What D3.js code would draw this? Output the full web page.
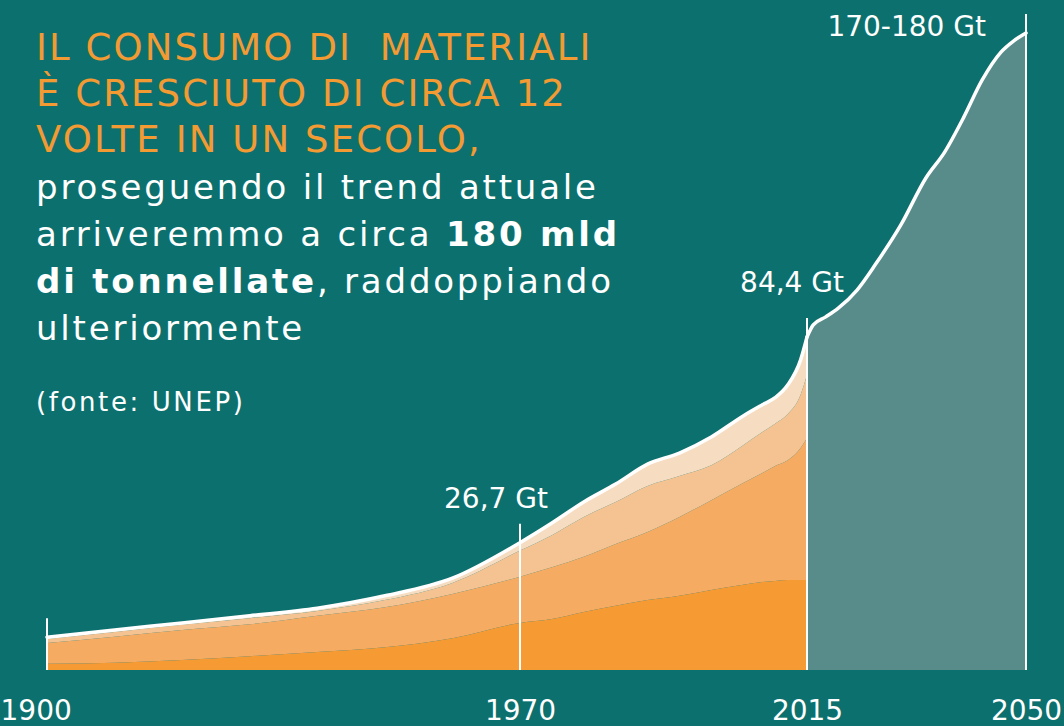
<!DOCTYPE html>
<html>
<head>
<meta charset="utf-8">
<script src="https://cdn.jsdelivr.net/npm/d3@7"></script>
<style>
  html, body { margin: 0; padding: 0; background: #0c716e; }
  svg { display: block; }
  text { font-family: "DejaVu Sans", sans-serif; white-space: pre; }
</style>
</head>
<body>
<div id="viz"></div>
<script>
const width = 1064;
const height = 726;

// historical extraction, Gt, stacked from the bottom (darkest) layer up
const years  = [1900, 1910, 1920, 1930, 1940, 1950, 1960, 1970, 1975, 1980, 1985, 1990, 1995, 2000, 2005, 2008, 2010, 2012, 2014, 2015];
const layer1 = [1.3, 1.5, 2.1, 2.9, 3.8, 4.8, 6.7, 9.9, 10.7, 12.2, 13.5, 14.7, 15.6, 16.8, 17.9, 18.5, 18.7, 18.9, 18.9, 18.9];
const layer2 = [4.4, 5.5, 6.3, 6.7, 7.6, 8.4, 9.3, 9.7, 10.9, 11.6, 13.0, 15.1, 18.4, 21.9, 25.6, 27.8, 29.6, 31.0, 34.4, 37.2];
const layer3 = [0.8, 1.0, 1.1, 1.3, 1.0, 1.5, 2.3, 5.5, 7.3, 10.2, 11.7, 12.9, 11.5, 9.8, 10.6, 11.5, 11.8, 12.9, 14.9, 17.7];
const layer4 = [0.4, 0.4, 0.4, 0.5, 0.6, 0.9, 1.0, 1.7, 3.4, 4.2, 5.0, 6.1, 6.4, 7.9, 8.2, 7.6, 7.3, 8.2, 9.8, 10.6];

// projection of the total, Gt
const projYears  = [2015, 2016, 2018, 2020, 2023, 2026, 2030, 2034, 2037, 2040, 2043, 2046, 2048, 2050];
const projValues = [84.4, 88.0, 90.4, 93.0, 98.4, 106.2, 117.8, 131.8, 139.5, 149.7, 161.0, 169.3, 172.6, 175.0];

const axisYears  = [1900, 1970, 2015, 2050];
const noteYears  = [1970, 2015, 2050];
const noteValues = [26.7, 84.4, 175];
const noteLabels = ['26,7 Gt', '84,4 Gt', '170-180 Gt'];

const layerColors = ['#f69b33', '#f5ab62', '#f5c391', '#f6dcc0'];

const svg = d3.select('#viz')
    .append('svg')
    .attr('width', width)
    .attr('height', height);

svg.append('rect')
    .attr('width', width)
    .attr('height', height)
    .attr('fill', '#0c716e');

// the infographic is not drawn to scale, so both scales are piecewise
const xScale = d3.scaleLinear()
    .domain(axisYears)
    .range([47, 520, 807, 1026]);
const yScale = d3.scaleLinear()
    .domain([0, 26.7, 84.4, 175])
    .range([670, 543, 337, 33]);

const rows = years.map((yr, i) => ({ year: yr, l1: layer1[i], l2: layer2[i], l3: layer3[i], l4: layer4[i] }));
const series = d3.stack().keys(['l1', 'l2', 'l3', 'l4'])(rows);
const totals = rows.map(r => ({ year: r.year, value: r.l1 + r.l2 + r.l3 + r.l4 }));
const proj = projYears.map((yr, i) => ({ year: yr, value: projValues[i] }));

// projection area
svg.append('path')
    .attr('fill', '#588c8a')
    .attr('d', d3.area()
        .x(d => xScale(d.year))
        .y0(yScale(0))
        .y1(d => yScale(d.value))
        .curve(d3.curveMonotoneX)(proj));

// stacked history
const stackArea = d3.area()
    .x(d => xScale(d.data.year))
    .y0(d => yScale(d[0]))
    .y1(d => yScale(d[1]))
    .curve(d3.curveMonotoneX);
svg.selectAll('path.layer')
    .data(series)
    .join('path')
    .attr('class', 'layer')
    .attr('fill', (d, i) => layerColors[i])
    .attr('d', stackArea);

// vertical markers
const allPoints = totals.concat(proj.slice(1));
const valueAt = yr => allPoints.find(p => p.year === yr).value;
svg.selectAll('line.mark')
    .data(axisYears)
    .join('line')
    .attr('class', 'mark')
    .attr('x1', d => xScale(d))
    .attr('x2', d => xScale(d))
    .attr('y1', yScale(0))
    .attr('y2', d => yScale(valueAt(d)) - 19)
    .attr('stroke', '#fff')
    .attr('stroke-width', 2);

// total line, drawn in two pieces so it keeps the bend at 2015
const totalLine = d3.line()
    .x(d => xScale(d.year))
    .y(d => yScale(d.value))
    .curve(d3.curveMonotoneX);
[totals, proj].forEach(part => {
    svg.append('path')
        .attr('fill', 'none')
        .attr('stroke', '#fff')
        .attr('stroke-width', 3.5)
        .attr('stroke-linecap', 'round')
        .attr('d', totalLine(part));
});

// x axis
const xAxis = d3.axisBottom(xScale)
    .tickValues(axisYears)
    .tickFormat(d3.format('d'))
    .tickSize(0)
    .tickPadding(30);
const gx = svg.append('g')
    .attr('transform', `translate(0, ${yScale(0)})`)
    .call(xAxis);
gx.select('.domain').remove();
gx.selectAll('text')
    .attr('fill', '#fff')
    .attr('font-size', 28)
    .attr('font-family', '"DejaVu Sans", sans-serif');
gx.selectAll('text').filter(d => d === 1900)
    .attr('text-anchor', 'start')
    .attr('x', -xScale(1900));

// value notes
const noteX = [d => xScale(d) - 24, d => xScale(d) + 37, d => xScale(d) - 40];
const noteAnchor = ['middle', 'end', 'end'];
const noteDy = [-35, -45, 3];
svg.selectAll('text.note')
    .data(noteYears)
    .join('text')
    .attr('class', 'note')
    .attr('x', (d, i) => noteX[i](d))
    .attr('y', (d, i) => yScale(noteValues[i]) + noteDy[i])
    .attr('text-anchor', (d, i) => noteAnchor[i])
    .attr('fill', '#fff')
    .attr('font-size', 28)
    .text((d, i) => noteLabels[i]);

// headline
const title = svg.append('text')
    .attr('fill', '#f49a33')
    .attr('font-size', 37)
    .attr('letter-spacing', 2.1);
['IL CONSUMO DI  MATERIALI', 'È CRESCIUTO DI CIRCA 12', 'VOLTE IN UN SECOLO,'].forEach((t, i) => {
    title.append('tspan').attr('x', 36).attr('y', 60 + i * 46).text(t);
});

const body = svg.append('text')
    .attr('fill', '#fff')
    .attr('font-size', 34)
    .attr('letter-spacing', 2.8);
const bodyLines = [
    [['proseguendo il trend attuale', false]],
    [['arriveremmo a circa ', false], ['180 mld', true]],
    [['di tonnellate', true], [', raddoppiando', false]],
    [['ulteriormente', false]]
];
bodyLines.forEach((parts, i) => {
    parts.forEach((p, j) => {
        const ts = body.append('tspan').text(p[0]).attr('font-weight', p[1] ? 700 : 400);
        if (j === 0) ts.attr('x', 36).attr('y', 199 + i * 47);
    });
});

svg.append('text')
    .attr('x', 36)
    .attr('y', 411)
    .attr('fill', '#fff')
    .attr('font-size', 26)
    .attr('letter-spacing', 2.6)
    .text('(fonte: UNEP)');
</script>
</body>
</html>
